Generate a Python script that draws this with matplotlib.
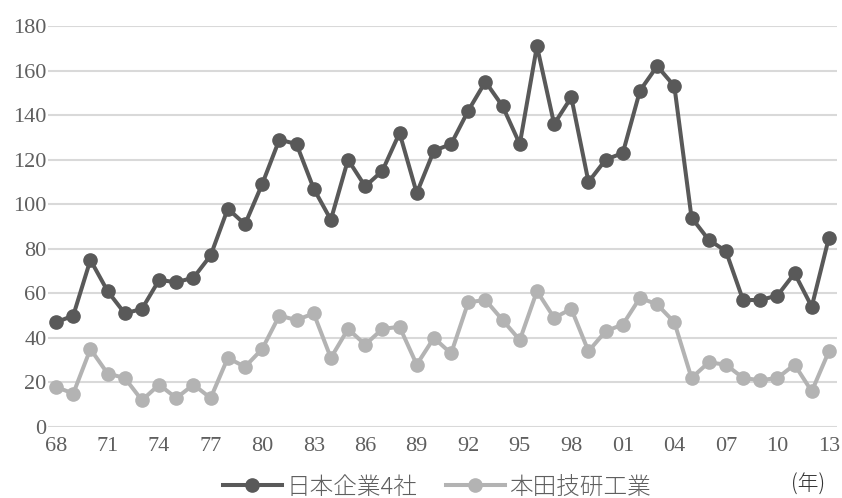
import matplotlib
matplotlib.use("Agg")
import matplotlib.pyplot as plt

years = list(range(1968, 2014))
tick_years = list(range(1968, 2014, 3))
tick_labels = [f"{y % 100:02d}" for y in tick_years]

japan4 = [47, 50, 75, 61, 51, 53, 66, 65, 67, 77,
          98, 91, 109, 129, 127, 107, 93, 120, 108, 115,
          132, 105, 124, 127, 142, 155, 144, 127, 171, 136,
          148, 110, 120, 123, 151, 162, 153, 94, 84, 79,
          57, 57, 59, 69, 54, 85]
honda = [18, 15, 35, 24, 22, 12, 19, 13, 19, 13,
         31, 27, 35, 50, 48, 51, 31, 44, 37, 44,
         45, 28, 40, 33, 56, 57, 48, 39, 61, 49,
         53, 34, 43, 46, 58, 55, 47, 22, 29, 28,
         22, 21, 22, 28, 16, 34]

series_names = ["日本企業4社", "本田技研工業"]
unit_label = "(年)"

fonts = ["Liberation Serif", "Noto Sans CJK JP", "DejaVu Sans"]
plt.rcParams["font.family"] = fonts

dark = "#595959"
light = "#b3b3b3"
text_col = "#5f5f5f"

fig = plt.figure(figsize=(8.42, 4.98), dpi=100)
ax = fig.add_axes([48 / 842, 1 - 427 / 498, (837 - 48) / 842, (427 - 26) / 498])

ax.plot(years, japan4, color=dark, lw=2.9, marker="o", ms=9.5,
        label=series_names[0], zorder=3)
ax.plot(years, honda, color=light, lw=2.9, marker="o", ms=9.5,
        label=series_names[1], zorder=3)

ax.set_ylim(0, 180)
ax.set_yticks(range(0, 181, 20))
ax.set_xlim(years[0] - 0.47, years[-1] + 0.47)
ax.set_xticks(tick_years)
ax.set_xticklabels(tick_labels)

ax.grid(axis="y", color="#d9d9d9", lw=1.5, zorder=0)
ax.set_axisbelow(True)
for s in ax.spines.values():
    s.set_visible(False)
ax.tick_params(axis="both", length=0, labelsize=16, colors=text_col)
ax.tick_params(axis="x", pad=7)
ax.tick_params(axis="y", pad=1)

leg = fig.legend(loc="center", bbox_to_anchor=(437 / 842, 1 - 487 / 498),
                 ncol=2, frameon=False, handlelength=2.5,
                 handletextpad=0.2, columnspacing=1.2,
                 prop={"family": ["Noto Sans CJK JP", "DejaVu Sans"],
                       "size": 17, "weight": "light"})
for t in leg.get_texts():
    t.set_color(text_col)

fig.text(808 / 842, 1 - 485 / 498, unit_label, ha="center", va="center",
         fontsize=15, color="#333333", weight="light",
         family=["Noto Sans CJK JP", "DejaVu Sans"])

fig.savefig("out.png", dpi=100)
